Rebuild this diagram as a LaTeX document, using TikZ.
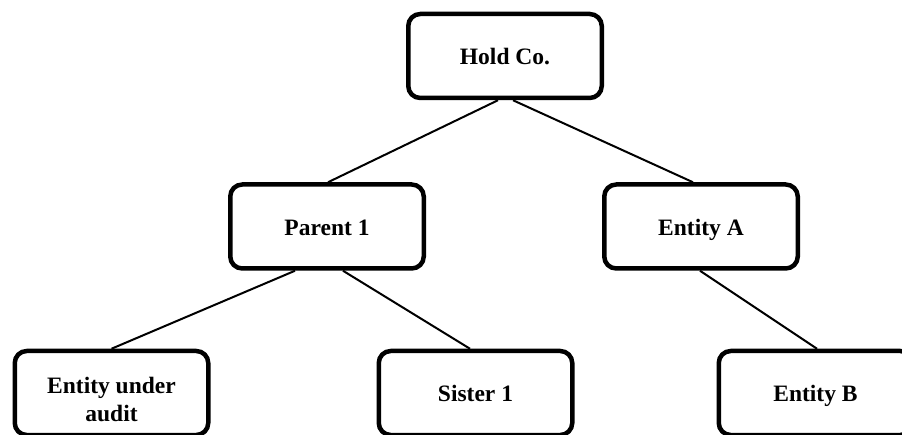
\documentclass[tikz,border=0pt]{standalone}
\usepackage{fontspec}
\setmainfont{Liberation Serif}
\usetikzlibrary{positioning}

\tikzset{
  entity/.style={draw, line width=4.5pt, rounded corners=12pt,
    minimum width=193.5pt, minimum height=84pt, inner sep=0pt,
    text height=20pt, text depth=2pt,
    align=center, font=\fontsize{23.5}{28}\selectfont\bfseries},
  link/.style={line width=2pt}
}

\begin{document}
\begin{tikzpicture}[x=1pt,y=-1pt]
            \clip (0,0) rectangle (902,435);

            % Drawing the boxes
            \node[entity] (holdco) at (505,56) {Hold Co.};
            \node[entity] (parent) at (327,226.5) {Parent 1};
            \node[entity] (entitya) at (701,226.5) {Entity A};
            \node[entity, text height=58pt] (audit) at (111.5,393) {Entity under\\audit};
            \node[entity] (sister) at (475.5,393) {Sister 1};
            \node[entity] (entityb) at (815.5,393) {Entity B};

            % Drawing the links
            \draw[link] ([xshift=-7pt]holdco.south) -- ([xshift=1pt]parent.north);
            \draw[link] ([xshift=8pt]holdco.south) -- ([xshift=-8pt]entitya.north);
            \draw[link] ([xshift=-32pt]parent.south) -- (audit.north);
            \draw[link] ([xshift=16pt]parent.south) -- ([xshift=-5.5pt]sister.north);
            \draw[link] ([xshift=-1pt]entitya.south) -- ([xshift=1.5pt]entityb.north);
        \end{tikzpicture}
\end{document}
